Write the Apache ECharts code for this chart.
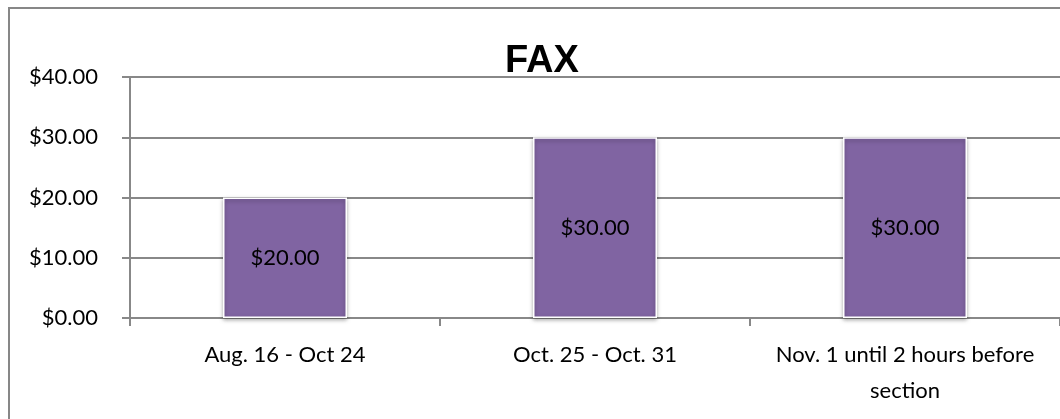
<!DOCTYPE html>
<html>
<head>
<meta charset="utf-8">
<script src="https://cdn.jsdelivr.net/npm/echarts@6/dist/echarts.min.js"></script>
<style>
  html, body { margin: 0; padding: 0; background: #fff; }
  #chart { width: 1060px; height: 419px; }
</style>
</head>
<body>
<div id="chart"></div>
<script>
// data
const categories = ['Aug. 16 - Oct 24', 'Oct. 25 - Oct. 31', 'Nov. 1 until 2 hours before\nsection']
const fees = [20, 30, 30]
const chartTitle = 'FAX'

const axisFont = 'Lato, "Open Sans", sans-serif'
const money = (v) => '$' + Number(v).toFixed(2)

const chart = echarts.init(document.getElementById('chart'))

chart.setOption({
  animation: false,
  graphic: [
    {
      type: 'rect',
      shape: { x: 9, y: 8, width: 1100, height: 460 },
      style: { fill: 'none', stroke: '#878787', lineWidth: 2 },
      silent: true,
      z: -1,
    },
  ],
  title: {
    text: chartTitle,
    left: 500,
    top: 38,
    textStyle: {
      fontFamily: 'Arial, "Liberation Sans", sans-serif',
      fontWeight: 'bold',
      fontSize: 38,
      color: '#000',
    },
  },
  grid: {
    left: 130,
    top: 77,
    width: 936,
    height: 241,
    containLabel: false,
  },
  xAxis: {
    type: 'category',
    data: categories,
    axisLine: { lineStyle: { color: '#888', width: 2 } },
    axisTick: { show: true, length: 8, lineStyle: { color: '#888', width: 2 } },
    axisLabel: {
      interval: 0,
      margin: 19,
      fontFamily: axisFont,
      fontSize: 22,
      color: '#000',
      lineHeight: 36,
      align: 'center',
    },
  },
  yAxis: {
    type: 'value',
    min: 0,
    max: 40,
    interval: 10,
    axisLine: { show: true, lineStyle: { color: '#888', width: 2 } },
    axisTick: { show: true, length: 8, lineStyle: { color: '#888', width: 2 } },
    splitLine: { lineStyle: { color: '#888', width: 2 } },
    axisLabel: {
      margin: 32,
      fontFamily: axisFont,
      fontSize: 22,
      color: '#000',
      formatter: money,
    },
  },
  series: [
    {
      type: 'bar',
      data: fees,
      barWidth: 124,
      itemStyle: {
        color: '#8064A2',
        borderColor: '#fff',
        borderWidth: 1.5,
        shadowColor: 'rgba(0,0,0,0.35)',
        shadowBlur: 4,
        shadowOffsetY: 2,
      },
      label: {
        show: true,
        position: 'inside',
        fontFamily: axisFont,
        fontSize: 22,
        color: '#000',
        formatter: (p) => money(p.value),
      },
    },
  ],
})
</script>
</body>
</html>
